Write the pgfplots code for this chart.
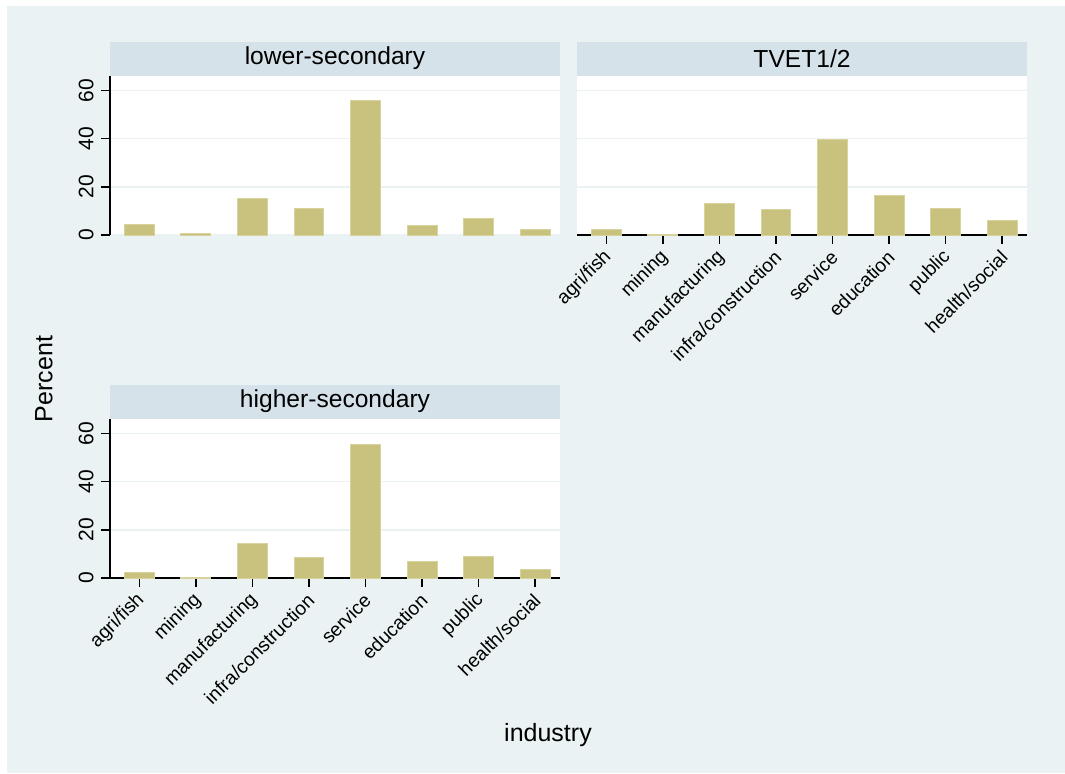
\documentclass[border=0pt]{standalone}
\usepackage{fontspec}
\setmainfont{Liberation Sans}
\usepackage{pgfplots}
\pgfplotsset{compat=1.18}
\definecolor{bgcol}{RGB}{234,242,243}
\definecolor{stripcol}{RGB}{214,226,233}
\definecolor{gridcol}{RGB}{234,242,243}
\definecolor{barcol}{RGB}{201,194,127}
\definecolor{baredge}{RGB}{216,211,156}
\pgfplotsset{
  panel/.style={
    scale only axis, width=225pt, height=79.5pt,
    anchor=south west,
    xmin=-0.52, xmax=7.44, ymin=0, ymax=66,
    ybar, bar width=0.53,
    xtick={0,...,7},
    xticklabels={agri/fish,mining,manufacturing,infra/construction,service,education,public,health/social},
    ytick={0,20,40,60},
    axis x line*=bottom, axis y line*=left,
    axis line style={black, line width=0.7pt},
    tick align=outside,
    major tick length=4.5pt,
    tick style={black, line width=0.7pt},
    ymajorgrids, grid style={gridcol, line width=0.8pt},
    axis background/.style={fill=white},
    /pgf/number format/assume math mode=true,
    yticklabel style={rotate=90, anchor=south, font=\fontsize{10.5}{12}\selectfont, inner sep=3.5pt},
    xticklabel style={xshift=2.5pt, yshift=-3.5pt, rotate=45, anchor=east, font=\fontsize{9.6}{11}\selectfont, inner sep=2pt},
    every axis title shift=0pt,
    title style={at={(0.5,1)}, anchor=south, fill=stripcol, minimum width=225pt, minimum height=17pt, inner sep=0pt, font=\fontsize{12.3}{14}\selectfont},
  },
  noxaxis/.style={x axis line style={draw=none}, xtick style={draw=none}, xticklabels={}},
  noyaxis/.style={y axis line style={draw=none}, ytick style={draw=none}, yticklabels={}},
  bars/.style={fill=barcol, draw=baredge, line width=0.5pt},
}
\begin{document}
\begin{tikzpicture}
\useasboundingbox (0,0) rectangle (532.5pt,386.5pt);
\fill[white] (0,0) rectangle (532.5pt,386.5pt);
\fill[bgcol] (3.5pt,0) rectangle (532.5pt,383.5pt);
\begin{axis}[panel, noxaxis, at={(55pt,269pt)}, title={lower-secondary}]
\addplot[bars] coordinates {(0,4.5) (1,0.8) (2,15.0) (3,11.1) (4,56.0) (5,4.0) (6,6.8) (7,2.3)};
\end{axis}
\begin{axis}[panel, noyaxis, at={(288.5pt,269pt)}, title={TVET1/2}]
\addplot[bars] coordinates {(0,2.4) (1,0.4) (2,12.9) (3,10.7) (4,39.6) (5,16.6) (6,11.1) (7,6.2)};
\end{axis}
\begin{axis}[panel, at={(55pt,97.5pt)}, title={higher-secondary}]
\addplot[bars] coordinates {(0,2.4) (1,0.2) (2,14.3) (3,8.5) (4,55.4) (5,6.7) (6,8.9) (7,3.5)};
\end{axis}
\node[rotate=90, font=\fontsize{12.5}{14}\selectfont] at (22pt,197pt) {Percent};
\node[font=\fontsize{12.5}{14}\selectfont] at (274pt,19pt) {industry};
\end{tikzpicture}
\end{document}
